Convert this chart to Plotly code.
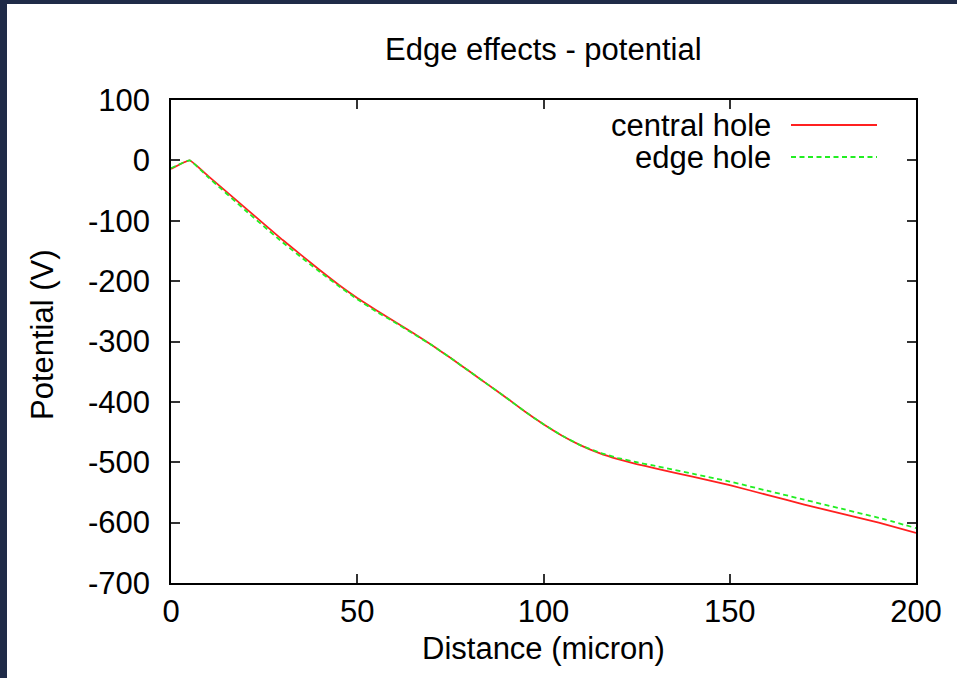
import plotly.graph_objects as go

# Potential along the distance axis for two hole positions
distance = [0, 5, 10, 20, 30, 40, 45, 50, 55, 60, 65, 70, 75, 80, 85, 90, 95,
            100, 105, 110, 115, 120, 125, 130, 140, 150, 160, 170, 180, 190, 200]
central_hole = [-14, 0, -26, -79, -132, -182, -206, -228, -248, -267, -286, -306,
                -327, -349, -371, -393, -416, -437, -456, -472, -485, -495, -503,
                -510, -524, -538, -554, -570, -585, -600, -617]
edge_hole = [-13, 0, -28, -83, -136, -185, -208, -230, -250, -268, -287, -306,
             -327, -349, -371, -393, -416, -437, -456, -472, -484, -493, -500,
             -506, -519, -532, -547, -562, -577, -592, -609]

x_ticks = [0, 50, 100, 150, 200]
y_ticks = [100, 0, -100, -200, -300, -400, -500, -600, -700]
y_tick_text = ["100", "0", "-100", "-200", "-300", "-400", "-500", "-600", "-700"]

FONT = "Liberation Sans, Arial, Helvetica, sans-serif"
FS = 31
W, H = 957, 678
L, R, T, B = 171, 916, 100, 583

RED = dict(color="#ff2020", width=1.8)
GREEN = dict(color="#22ee22", width=1.8, dash="5px,3.5px")

fig = go.Figure()
fig.add_trace(go.Scatter(x=distance, y=central_hole, mode="lines", name="central hole",
                         line=RED, line_shape="spline", line_smoothing=0.3,
                         showlegend=False))
fig.add_trace(go.Scatter(x=distance, y=edge_hole, mode="lines", name="edge hole",
                         line=GREEN, line_shape="spline", line_smoothing=0.3,
                         showlegend=False))

def px_x(p):
    return (p - L) / (R - L)

def px_y(p):
    return (B - p) / (B - T)

# white panel on the dark slide background
fig.add_shape(type="rect", xref="paper", yref="paper", layer="below",
              x0=px_x(7), x1=px_x(W + 5), y0=px_y(H + 5), y1=px_y(4),
              fillcolor="white", line=dict(width=0))

# key: right-aligned labels followed by line samples
key = [("central hole", 125, RED), ("edge hole", 157, GREEN)]
for label, ypix, ln in key:
    fig.add_annotation(x=px_x(773), y=px_y(ypix), xref="paper", yref="paper",
                       text=label, showarrow=False, xanchor="right", yanchor="middle",
                       font=dict(family=FONT, size=FS, color="black"))
    fig.add_shape(type="line", xref="paper", yref="paper",
                  x0=px_x(791), x1=px_x(877), y0=px_y(ypix), y1=px_y(ypix), line=ln)

fig.add_annotation(x=px_x(543), y=px_y(50), xref="paper", yref="paper",
                   text="Edge effects - potential", showarrow=False,
                   xanchor="center", yanchor="middle",
                   font=dict(family=FONT, size=FS, color="black"))
fig.add_annotation(x=px_x(543), y=px_y(648), xref="paper", yref="paper",
                   text="Distance (micron)", showarrow=False,
                   xanchor="center", yanchor="middle", borderpad=0,
                   font=dict(family=FONT, size=FS, color="black"))
fig.add_annotation(x=px_x(42), y=px_y(335), xref="paper", yref="paper",
                   text="Potential (V)", showarrow=False, textangle=-90,
                   xanchor="center", yanchor="middle",
                   font=dict(family=FONT, size=FS, color="black"))

axis_common = dict(showgrid=False, zeroline=False, showline=True, linecolor="black",
                   linewidth=1.5, mirror="allticks", ticks="inside", ticklen=9,
                   tickwidth=1.5, tickcolor="#333333",
                   tickfont=dict(family=FONT, size=FS, color="black"))

fig.update_xaxes(range=[0, 200], tickvals=x_ticks, ticklabelstandoff=0, **axis_common)
fig.update_yaxes(range=[-700, 100], tickvals=y_ticks, ticktext=y_tick_text,
                 ticklabelstandoff=13, **axis_common)

fig.update_layout(width=W, height=H,
                  margin=dict(l=L, r=W - R, t=T, b=H - B, autoexpand=False),
                  paper_bgcolor="#1f2b48", plot_bgcolor="white",
                  font=dict(family=FONT))

fig.write_html("out.html")
